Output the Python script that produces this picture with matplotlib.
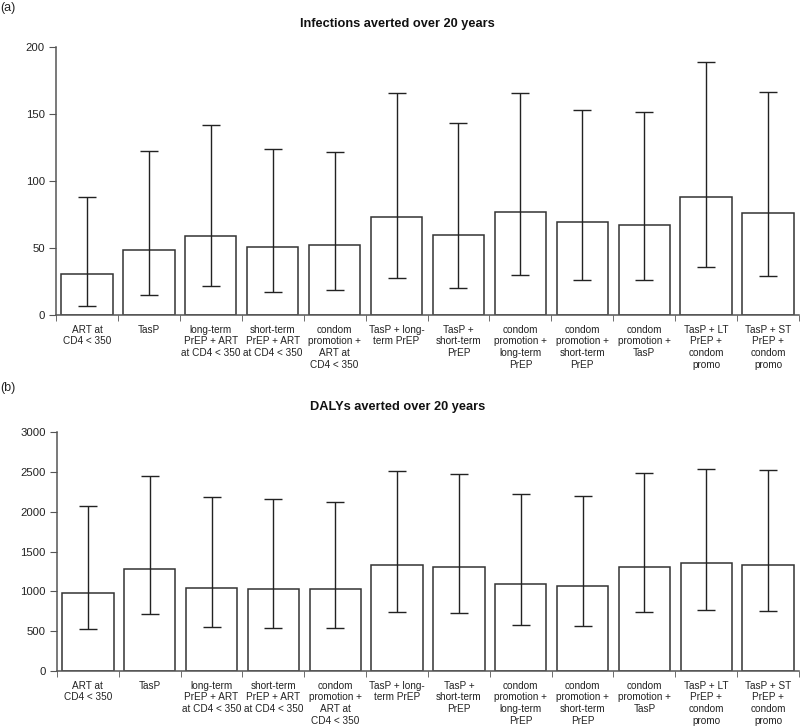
import matplotlib
matplotlib.use("Agg")
import matplotlib.pyplot as plt
import numpy as np

plt.rcParams['font.family'] = ['Liberation Sans', 'DejaVu Sans']

categories = [
    "ART at\nCD4 < 350",
    "TasP",
    "long-term\nPrEP + ART\nat CD4 < 350",
    "short-term\nPrEP + ART\nat CD4 < 350",
    "condom\npromotion +\nART at\nCD4 < 350",
    "TasP + long-\nterm PrEP",
    "TasP +\nshort-term\nPrEP",
    "condom\npromotion +\nlong-term\nPrEP",
    "condom\npromotion +\nshort-term\nPrEP",
    "condom\npromotion +\nTasP",
    "TasP + LT\nPrEP +\ncondom\npromo",
    "TasP + ST\nPrEP +\ncondom\npromo",
]

inf_mean = [30.6, 48.7, 59.0, 50.5, 52.0, 72.9, 59.5, 76.9, 69.2, 67.4, 88.3, 75.9]
inf_low = [6.7, 14.7, 21.6, 16.9, 18.7, 27.6, 20.1, 29.6, 26.3, 25.9, 35.6, 29.1]
inf_high = [88.3, 122.6, 141.8, 123.9, 121.4, 165.9, 143.5, 165.7, 153.0, 151.2, 188.6, 166.2]

daly_mean = [982, 1284, 1041, 1025, 1029, 1326, 1301, 1088, 1071, 1309, 1351, 1330]
daly_low = [523, 711, 552, 543, 543, 744, 728, 573, 565, 740, 765, 753]
daly_high = [2070, 2447, 2187, 2158, 2124, 2505, 2476, 2225, 2192, 2484, 2538, 2518]

fig = plt.figure(figsize=(8.0, 7.27), dpi=100)

spine_col = "#555555"
edge_col = "#333333"


def panel(rect, mean, low, high, ylim, yticks, title, title_y, letter, letter_y):
    ax = fig.add_axes(rect)
    x = np.arange(len(categories))
    mean = np.asarray(mean, float)
    yerr = np.vstack([mean - np.asarray(low, float), np.asarray(high, float) - mean])
    ax.bar(x, mean, width=0.83, color="white", edgecolor=edge_col, linewidth=1.1, zorder=2)
    ax.errorbar(x, mean, yerr=yerr, fmt="none", ecolor="#222222", elinewidth=1.0,
                capsize=6.5, capthick=1.0, zorder=3)
    ax.set_xlim(-0.5, len(categories) - 0.5)
    ax.set_ylim(*ylim)
    ax.set_yticks(yticks)
    ax.set_xticks(x)
    ax.set_xticklabels(categories, fontsize=7.2, color="#222222", linespacing=1.22)
    ax.set_xticks(np.arange(len(categories) + 1) - 0.5, minor=True)
    ax.tick_params(axis="x", which="major", length=0, pad=7)
    ax.tick_params(axis="x", which="minor", length=4, color=spine_col, direction="out")
    ax.tick_params(axis="y", length=5, color=spine_col, labelsize=8.2, labelcolor="#222222", pad=3)
    for s in ["top", "right"]:
        ax.spines[s].set_visible(False)
    for s in ["left", "bottom"]:
        ax.spines[s].set_color(spine_col)
        ax.spines[s].set_linewidth(1.1)
    fig.text(0.497, title_y, title, ha="center", va="center", fontsize=9.2,
             fontweight="bold", color="#111111")
    fig.text(0.0, letter_y, letter, ha="left", va="center", fontsize=9, color="#222222")
    return ax


panel([0.0700, 1 - 315 / 727, 743 / 800, 268 / 727], inf_mean, inf_low, inf_high,
      (0, 200), [0, 50, 100, 150, 200], "Infections averted over 20 years",
      1 - 24 / 727, "(a)", 1 - 8 / 727)
panel([0.0712, 1 - 671 / 727, 742 / 800, 239 / 727], daly_mean, daly_low, daly_high,
      (0, 3000), [0, 500, 1000, 1500, 2000, 2500, 3000], "DALYs averted over 20 years",
      1 - 407 / 727, "(b)", 1 - 388 / 727)

fig.savefig("out.png", dpi=100)
